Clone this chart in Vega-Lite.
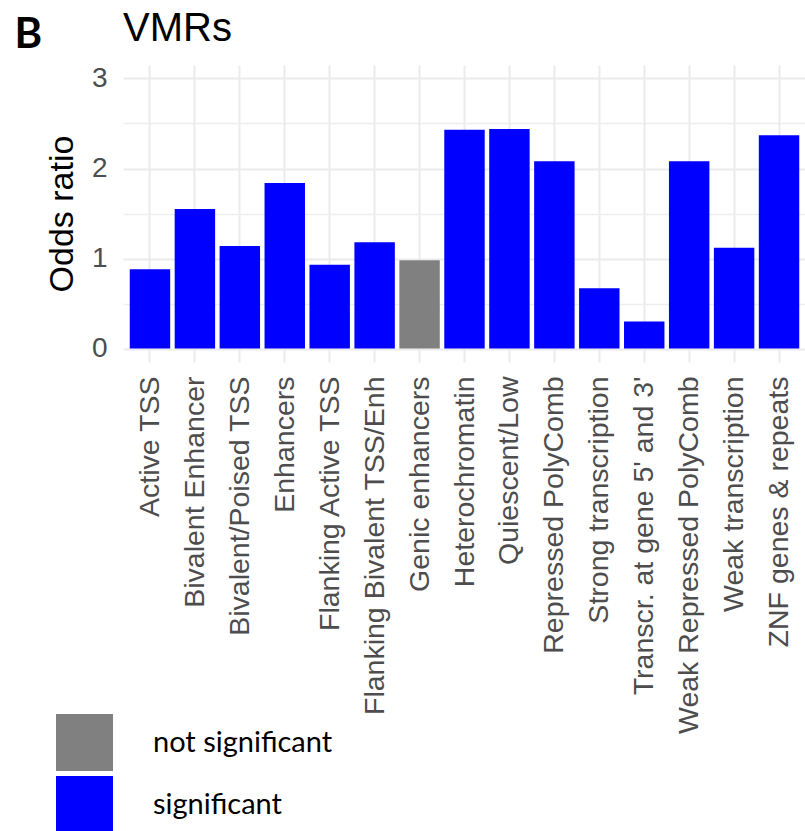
{
  "$schema": "https://vega.github.io/schema/vega-lite/v6.json",
  "padding": {"left": 14, "top": 8, "right": 0, "bottom": 0},
  "background": "white",
  "title": {
    "text": "B",
    "anchor": "start",
    "frame": "bounds",
    "font": "Lato",
    "fontSize": 42,
    "fontWeight": "bold",
    "color": "black",
    "offset": 0,
    "dx": -31,
    "dy": 48
  },
  "vconcat": [
    {
      "title": {
        "text": "VMRs",
        "anchor": "start",
        "frame": "group",
        "font": "Liberation Sans",
        "fontSize": 40,
        "fontWeight": "normal",
        "color": "black",
        "offset": 16
      },
      "width": 683,
      "height": 297,
      "data": {
        "values": [
          {"state": "Active TSS", "odds_ratio": 0.88, "significance": "significant"},
          {"state": "Bivalent Enhancer", "odds_ratio": 1.55, "significance": "significant"},
          {"state": "Bivalent/Poised TSS", "odds_ratio": 1.14, "significance": "significant"},
          {"state": "Enhancers", "odds_ratio": 1.84, "significance": "significant"},
          {"state": "Flanking Active TSS", "odds_ratio": 0.93, "significance": "significant"},
          {"state": "Flanking Bivalent TSS/Enh", "odds_ratio": 1.18, "significance": "significant"},
          {"state": "Genic enhancers", "odds_ratio": 0.98, "significance": "not significant"},
          {"state": "Heterochromatin", "odds_ratio": 2.43, "significance": "significant"},
          {"state": "Quiescent/Low", "odds_ratio": 2.44, "significance": "significant"},
          {"state": "Repressed PolyComb", "odds_ratio": 2.08, "significance": "significant"},
          {"state": "Strong transcription", "odds_ratio": 0.67, "significance": "significant"},
          {"state": "Transcr. at gene 5' and 3'", "odds_ratio": 0.3, "significance": "significant"},
          {"state": "Weak Repressed PolyComb", "odds_ratio": 2.08, "significance": "significant"},
          {"state": "Weak transcription", "odds_ratio": 1.12, "significance": "significant"},
          {"state": "ZNF genes & repeats", "odds_ratio": 2.37, "significance": "significant"}
        ]
      },
      "layer": [
        {
          "mark": {"type": "bar", "opacity": 0},
          "encoding": {
            "x": {"field": "state", "type": "nominal", "sort": null},
            "y": {
              "field": "odds_ratio",
              "type": "quantitative",
              "axis": {
                "orient": "left",
                "values": [0.5, 1.5, 2.5],
                "grid": true,
                "gridColor": "#eeeeee",
                "gridWidth": 1.3,
                "labels": false,
                "ticks": false,
                "domain": false,
                "title": null
              }
            }
          }
        },
        {
          "mark": {"type": "bar", "opacity": 1},
          "encoding": {
            "x": {
              "field": "state",
              "type": "nominal",
              "sort": null,
              "scale": {"paddingInner": 0.1, "paddingOuter": 0.15},
              "axis": {
                "title": null,
                "labelAngle": -90,
                "labelFont": "Liberation Sans",
                "labelFontSize": 28.5,
                "labelColor": "#4d4d4d",
                "labelPadding": 14,
                "labelLimit": 0,
                "bandPosition": 0.5,
                "grid": true,
                "gridColor": "#ebebeb",
                "gridWidth": 2,
                "ticks": false,
                "domain": false
              }
            },
            "y": {
              "field": "odds_ratio",
              "type": "quantitative",
              "scale": {"domain": [-0.15, 3.15], "nice": false, "zero": false},
              "axis": {
                "orient": "left",
                "values": [0, 1, 2, 3],
                "grid": true,
                "gridColor": "#ebebeb",
                "gridWidth": 2,
                "ticks": false,
                "domain": false,
                "labelFont": "Liberation Sans",
                "labelFontSize": 28,
                "labelColor": "#4d4d4d",
                "labelPadding": 16,
                "title": "Odds ratio",
                "titleFont": "Liberation Sans",
                "titleFontSize": 34,
                "titleFontWeight": "normal",
                "titleColor": "black",
                "titlePadding": 12
              }
            },
            "color": {
              "field": "significance",
              "type": "nominal",
              "scale": {
                "domain": ["not significant", "significant"],
                "range": ["#808080", "#0000ff"]
              },
              "legend": {
                "title": null,
                "orient": "none",
                "legendX": -67,
                "legendY": 649,
                "symbolType": "square",
                "symbolSize": 3249,
                "symbolStrokeWidth": 0,
                "symbolOpacity": 1,
                "labelFont": "Lato",
                "labelFontSize": 29,
                "labelColor": "black",
                "labelOffset": 40,
                "labelLimit": 0,
                "rowPadding": 5
              }
            }
          }
        }
      ],
      "resolve": {"axis": {"y": "independent"}}
    }
  ],
  "config": {
    "view": {"stroke": null},
    "axis": {"gridCap": "butt"}
  }
}
